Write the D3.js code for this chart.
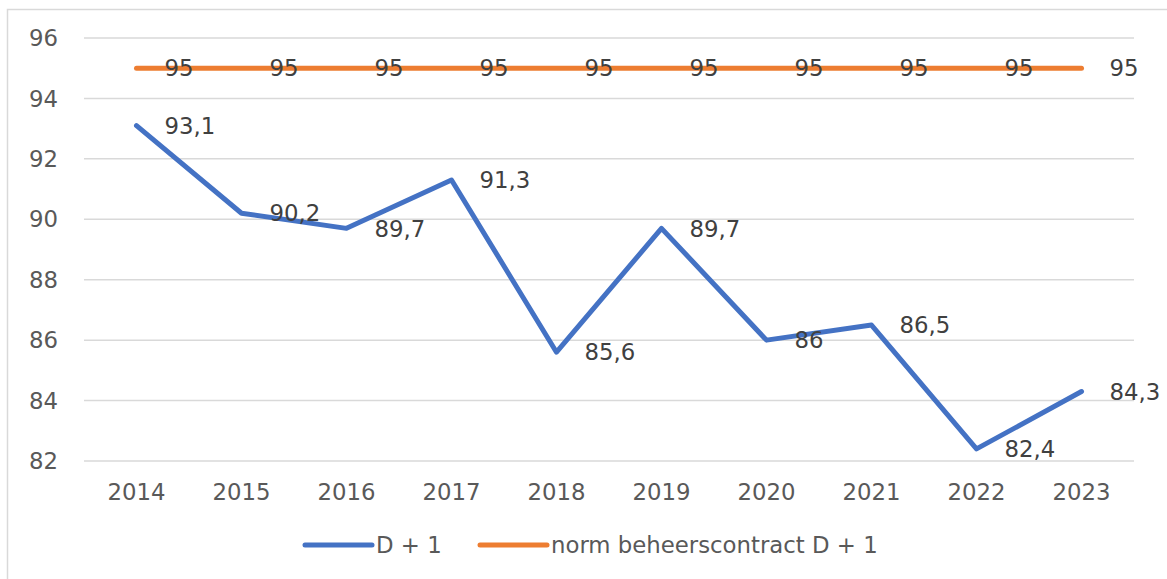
<!DOCTYPE html>
<html>
<head>
<meta charset="utf-8">
<script src="https://cdn.jsdelivr.net/npm/d3@7"></script>
<style>
    body { margin: 0; background: #fff; }
    svg { display: block; font-family: "DejaVu Sans", sans-serif; }
</style>
</head>
<body>
<script>
const years = ["2014", "2015", "2016", "2017", "2018", "2019", "2020", "2021", "2022", "2023"];
const dPlus1 = [93.1, 90.2, 89.7, 91.3, 85.6, 89.7, 86, 86.5, 82.4, 84.3];
const norm = [95, 95, 95, 95, 95, 95, 95, 95, 95, 95];
const yTicks = [82, 84, 86, 88, 90, 92, 94, 96];
const seriesNames = ["D + 1", "norm beheerscontract D + 1"];

const width = 1167, height = 579;
const margin = {top: 38, right: 33, bottom: 118, left: 84};
const fontSize = 22.8;

const svg = d3.select("body").append("svg")
    .attr("width", width)
    .attr("height", height);

// chart frame (cut off at right and bottom in the original)
svg.append("rect")
    .attr("x", 7.5).attr("y", 9.5)
    .attr("width", width + 20).attr("height", height + 20)
    .attr("fill", "none")
    .attr("stroke", "#d9d9d9")
    .attr("stroke-width", 1.5);

const x = d3.scaleBand()
    .domain(years)
    .range([margin.left, width - margin.right]);

const y = d3.scaleLinear()
    .domain([82, 96])
    .range([height - margin.bottom, margin.top]);

// gridlines
svg.append("g")
    .selectAll("line")
    .data(yTicks)
    .join("line")
    .attr("x1", margin.left)
    .attr("x2", width - margin.right)
    .attr("y1", d => y(d))
    .attr("y2", d => y(d))
    .attr("stroke", "#d9d9d9")
    .attr("stroke-width", 1.5);

// y labels
svg.append("g")
    .selectAll("text")
    .data(yTicks)
    .join("text")
    .attr("x", 58)
    .attr("y", d => y(d))
    .attr("dy", "0.36em")
    .attr("text-anchor", "end")
    .attr("fill", "#595959")
    .attr("font-size", fontSize)
    .text(d => d);

// x labels
svg.append("g")
    .selectAll("text")
    .data(years)
    .join("text")
    .attr("x", d => x(d) + x.bandwidth() / 2)
    .attr("y", 492)
    .attr("dy", "0.36em")
    .attr("text-anchor", "middle")
    .attr("fill", "#595959")
    .attr("font-size", fontSize)
    .text(d => d);

const cx = (d, i) => x(years[i]) + x.bandwidth() / 2;
const line = d3.line().x(cx).y(d => y(d));

const series = [
    {values: norm, color: "#ed7d31"},
    {values: dPlus1, color: "#4472c4"}
];

series.forEach(s => {
    svg.append("path")
        .datum(s.values)
        .attr("d", line)
        .attr("fill", "none")
        .attr("stroke", s.color)
        .attr("stroke-width", 5)
        .attr("stroke-linejoin", "round")
        .attr("stroke-linecap", "round");
});

// data labels, to the right of each point
series.forEach(s => {
    svg.append("g")
        .selectAll("text")
        .data(s.values)
        .join("text")
        .attr("x", (d, i) => cx(d, i) + 28)
        .attr("y", d => y(d))
        .attr("dy", "0.36em")
        .attr("fill", "#404040")
        .attr("font-size", fontSize)
        .text(d => String(d).replace(".", ","));
});

// legend
const legendItems = [
    {name: seriesNames[0], color: "#4472c4", x: 305},
    {name: seriesNames[1], color: "#ed7d31", x: 480}
];
const legend = svg.append("g")
    .selectAll("g")
    .data(legendItems)
    .join("g")
    .attr("transform", d => `translate(${d.x},545)`);

legend.append("line")
    .attr("x1", 0).attr("x2", 67)
    .attr("stroke", d => d.color)
    .attr("stroke-width", 5)
    .attr("stroke-linecap", "round");

legend.append("text")
    .attr("x", 71)
    .attr("dy", "0.36em")
    .attr("fill", "#595959")
    .attr("font-size", fontSize)
    .text(d => d.name);
</script>
</body>
</html>
